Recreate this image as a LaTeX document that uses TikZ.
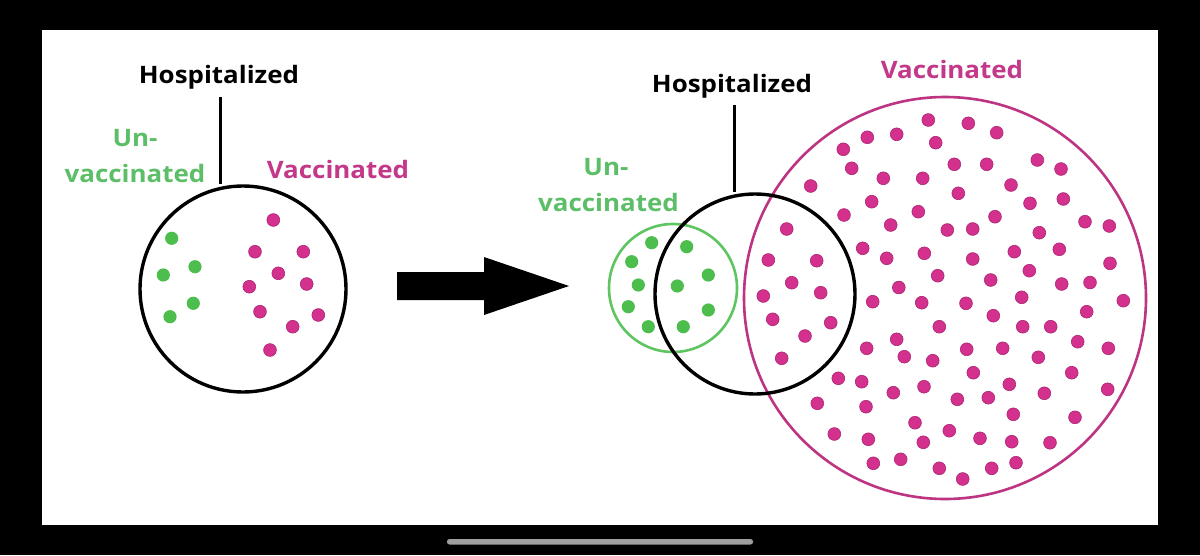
\documentclass[tikz,border=0pt]{standalone}
\usepackage{fontspec}
\setmainfont{Open Sans}[FakeStretch=1.08]
\definecolor{vgreen}{HTML}{4DBE4E}
\definecolor{vgreentext}{HTML}{5CBF68}
\definecolor{vmag}{HTML}{D4308E}
\definecolor{vmagtext}{HTML}{C4388A}
\definecolor{vmagline}{HTML}{BC3482}
\begin{document}
\begin{tikzpicture}[x=1pt,y=-1pt,
  lbl/.style={font=\fontsize{24}{36}\selectfont\bfseries, inner sep=0pt, align=center},
  gdot/.style={fill=vgreen, draw=none},
  mdot/.style={fill=vmag, draw=vmag!80!black, line width=0.6pt},
  hosp/.style={draw=black, line width=3.4pt},
]
\useasboundingbox (0,0) rectangle (1200,555);
\fill[black] (0,0) rectangle (1200,555);
\fill[white] (41.7,29.5) rectangle (1158.3,525);
\fill[gray!75, rounded corners=2.5pt] (447,539) rectangle (753,544.5);

% ---------- left diagram ----------
\node[lbl] (h1) at (219,77) {Hospitalized};
\node[lbl, text=vgreentext] (u1) at (135,156.5) {Un-\\vaccinated};
\node[lbl, text=vmagtext] (v1) at (338,169) {Vaccinated};
\node[circle, hosp, minimum size=206pt, inner sep=0pt] (c1) at (243,289) {};
\coordinate (t1) at (220,97);
\draw[line width=3pt] (t1) -- (c1.north -| t1);

\foreach \p in {(171.7,238.3),(163.3,275),(195,266.7),(193.3,303.3),(170,316.7)}
  \fill[gdot] \p circle (6.6);
\foreach \p in {(273.3,220),(255,251.7),(303.3,251.7),(278.3,273.3),(249.3,286.7),
  (306.7,284),(260,311.7),(318.3,315),(292.7,326.7),(270,350)}
  \filldraw[mdot] \p circle (6.4);

% ---------- arrow ----------
\fill[black] (397,272) -- (484,272) -- (484,257) -- (569,286) -- (484,315) -- (484,300) -- (397,300) -- cycle;

% ---------- right diagram ----------
\node[circle, draw=vmagline, line width=2.6pt, minimum size=402pt, inner sep=0pt] (cv) at (945,298) {};
\node[circle, draw=vgreen!90!white, line width=2.6pt, minimum size=128pt, inner sep=0pt] (cg) at (673,288) {};

\foreach \p in {(651.7,242.7),(686.7,246.7),(631.7,261.7),(708.3,275),(638.3,285),
  (677.3,286),(628.3,306.7),(708.3,310),(648.3,326.7),(683.3,326.7)}
  \fill[gdot] \p circle (6.6);

\foreach \p in {
  (786.7,229),(768.3,260),(816.7,260.7),(791.7,282.7),(763.3,296),(820.7,292.7),
  (772.7,319.3),(830.7,322.7),(805,336),(781.7,358.3),
  (867.3,137.3),(843.3,149.3),(851.7,168.3),(883.3,178.3),(810.7,186),(871.7,201.7),
  (844,215),(890.7,225),(862.7,248.3),(886.7,258.3),(872.7,301.7),(866.7,348.3),
  (838.3,378.3),(861.7,381.7),
  (928.3,120),(968.3,123.3),(996.7,132.7),(896.7,134.3),(935.7,142.7),
  (954.3,164.3),(986.7,164.3),(1037.3,160),(1061,169),(922.7,178.3),(958.3,193.3),
  (1011,185),(1030,203.3),(1063.3,199),(918.3,211.7),(995,216.7),(947.3,230),
  (972.7,229),(1039.3,232.7),(1085,221.7),(1109.3,226),(924.3,253.3),(972.7,259),
  (1014.3,251.7),(1059.3,249.3),(1110,263.3),(937.7,275.7),(990.7,280),(1029.3,270.7),
  (1061.7,284),(1090,282.5),(898.8,287.5),
  (921.7,302.7),(966,303.3),(1021.7,297.3),(1123.3,300.7),(939.3,326.7),(993.3,315.7),
  (1022.7,326.7),(1050.7,326.7),(1086.7,311.7),(896.7,339.3),(904.3,356.7),
  (932.7,360.7),(966.7,349.3),(1002.7,348.3),(1038.3,357.3),(1077.7,341.7),
  (1108.3,348.3),(973.3,372.7),(1071.7,372.7),(893.3,392.7),(924,386.7),(957.3,399.3),
  (988.3,397.7),(1009.3,384.3),(1044.3,393.3),(1107.7,389.3),(817.3,403.3),(866,406.7),
  (1013.3,414.3),(1075,417.3),(915,422.7),(949.3,430.7),(834.3,434),(868.3,439.3),
  (923.3,442.3),(980,438.3),(1011.7,441.7),(1050,442.7),(873.3,463.3),(900.7,459.3),
  (939.3,468.3),(962.7,479),(991.7,468.3),(1016,462.7)}
  \filldraw[mdot] \p circle (6.4);

\node[circle, hosp, minimum size=200pt, inner sep=0pt] (c2) at (755,294) {};
\node[lbl] (h2) at (732,86) {Hospitalized};
\node[lbl, text=vgreentext, align=right, anchor=east] (u2) at (679,185) {Un-\hspace*{2.1em}\\vaccinated};
\node[lbl, text=vmagtext] (v2) at (952,69) {Vaccinated};
\coordinate (t2) at (734,105);
\draw[line width=3pt] (t2) -- (c2.north -| t2);
\end{tikzpicture}
\end{document}
